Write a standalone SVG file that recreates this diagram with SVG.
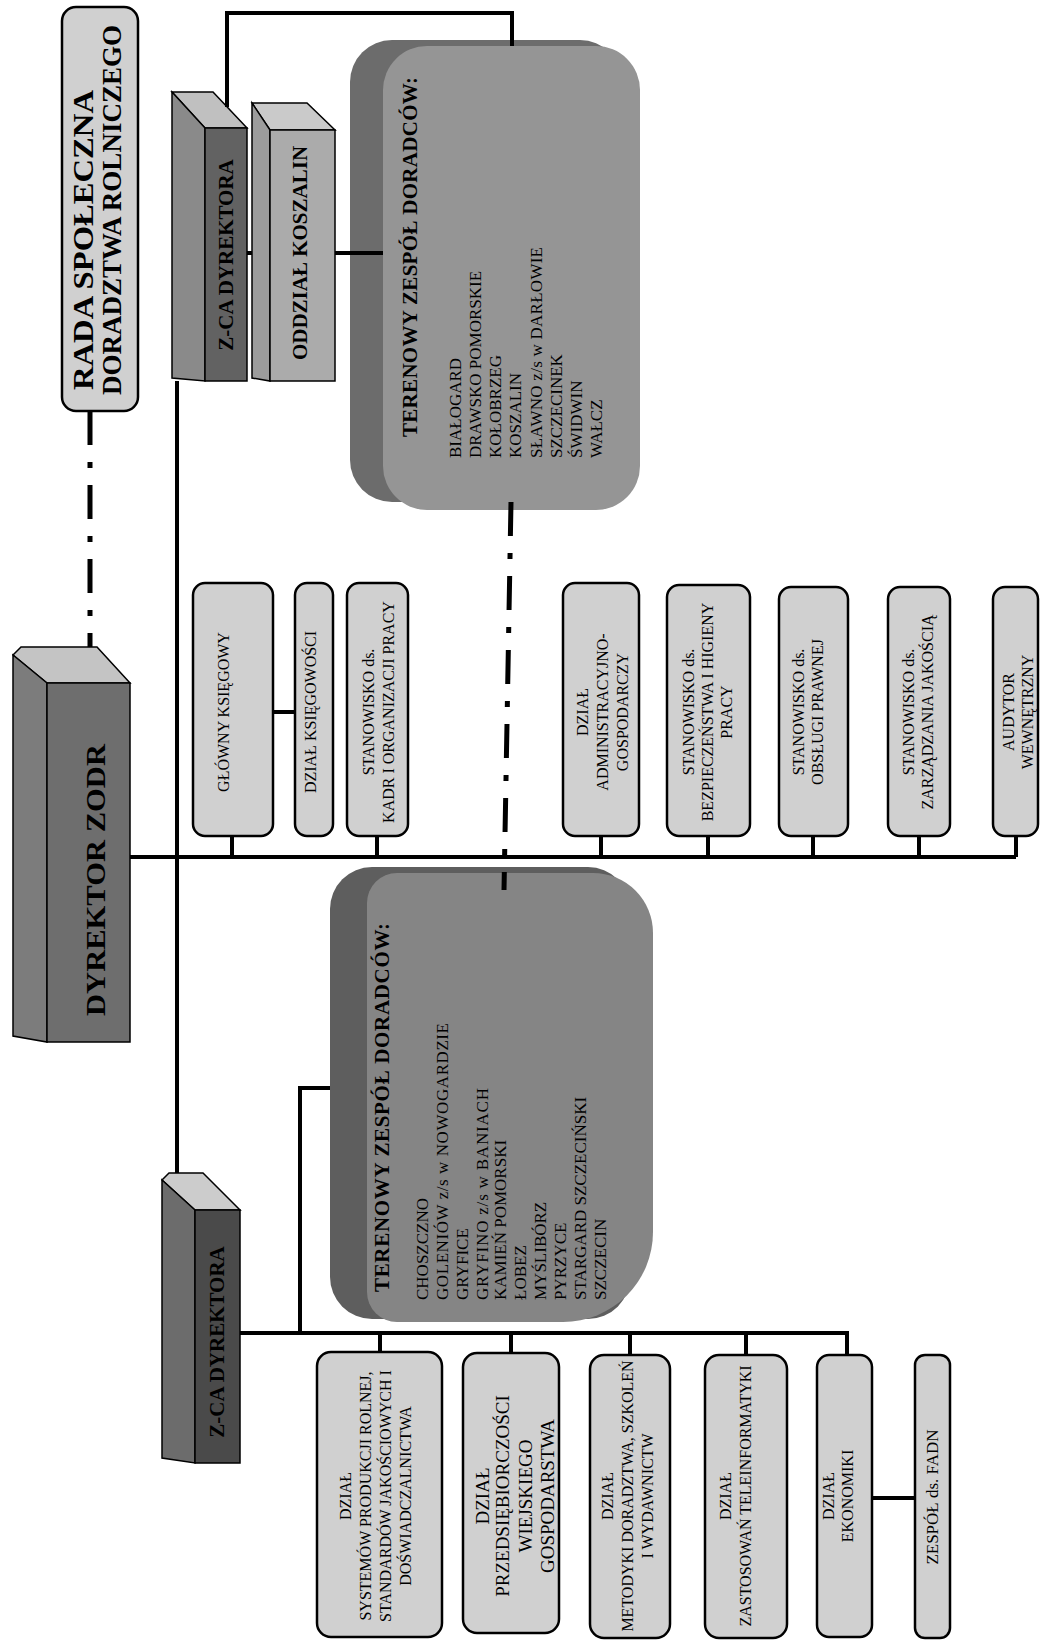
<svg xmlns="http://www.w3.org/2000/svg" width="1043" height="1641" viewBox="0 0 1043 1641">
<style>
.ln{stroke:#000;stroke-width:4;fill:none}
.dd{stroke:#000;stroke-width:5;fill:none;stroke-dasharray:34 17 6 17}
.lb{fill:#d0d0d0;stroke:#000;stroke-width:2.5}
.ol{stroke:#000;stroke-width:1.5}
text{font-family:"Liberation Serif","Times New Roman",serif;fill:#000}
.c{text-anchor:middle}
.f16{font-size:16px}
.f19{font-size:19px}
.f17{font-size:17px}
.b{font-weight:bold}
.tt{font-size:21px;font-weight:bold}
.li{font-size:17px}
</style>
<rect width="1043" height="1641" fill="#fff"/>

<g id="rada">
<rect class="lb" x="62" y="7" width="76" height="404" rx="14"/>
<text class="c b" font-size="29" textLength="300" lengthAdjust="spacingAndGlyphs" transform="translate(93,240) rotate(-90)">RADA SPOŁECZNA</text>
<text class="c b" font-size="27" transform="translate(121,210) rotate(-90)">DORADZTWA ROLNICZEGO</text>
</g>

<g id="dyrektor">
<polygon class="ol" fill="#c4c4c4" points="13,655 21,647 97,647 130,683 47,683"/>
<polygon class="ol" fill="#7c7c7c" points="13,655 47,683 47,1042 13,1036"/>
<rect class="ol" fill="#6e6e6e" x="47" y="683" width="83" height="359"/>
<text class="c b" font-size="28" textLength="272" lengthAdjust="spacingAndGlyphs" transform="translate(105,880) rotate(-90)">DYREKTOR ZODR</text>
</g>

<g id="zca-top">
<polygon class="ol" fill="#c0c0c0" points="172,92 213,92 247,128 205,128"/>
<polygon class="ol" fill="#8a8a8a" points="172,92 205,128 205,381 172,378"/>
<rect class="ol" fill="#626262" x="205" y="128" width="42" height="253"/>
<text class="c b" font-size="21" transform="translate(233,255) rotate(-90)">Z-CA DYREKTORA</text>
</g>

<g id="oddzial">
<polygon class="ol" fill="#cacaca" points="252,103 307,103 335,130 270,130"/>
<polygon class="ol" fill="#9c9c9c" points="252,103 270,130 270,381 252,378"/>
<rect class="ol" fill="#ababab" x="270" y="130" width="65" height="251"/>
<text class="c b" font-size="21" transform="translate(307,253) rotate(-90)">ODDZIAŁ KOSZALIN</text>
</g>

<g id="zespol-koszalin">
<rect fill="#6c6c6c" x="350" y="40" width="272" height="462" rx="42"/>
<rect fill="#959595" x="383" y="46" width="257" height="464" rx="44"/>
<text class="tt" textLength="360" lengthAdjust="spacing" transform="translate(417,437) rotate(-90)">TERENOWY ZESPÓŁ DORADCÓW:</text>
<text class="li" transform="translate(461,458) rotate(-90)">BIAŁOGARD</text>
<text class="li" transform="translate(481,458) rotate(-90)">DRAWSKO POMORSKIE</text>
<text class="li" transform="translate(501,458) rotate(-90)">KOŁOBRZEG</text>
<text class="li" transform="translate(521,458) rotate(-90)">KOSZALIN</text>
<text class="li" textLength="211" lengthAdjust="spacing" transform="translate(542,458) rotate(-90)">SŁAWNO z/s w DARŁOWIE</text>
<text class="li" transform="translate(562,458) rotate(-90)">SZCZECINEK</text>
<text class="li" transform="translate(582,458) rotate(-90)">ŚWIDWIN</text>
<text class="li" transform="translate(602,458) rotate(-90)">WAŁCZ</text>
</g>

<g id="glowny-ksiegowy">
<rect class="lb" x="193" y="583" width="80" height="253" rx="12"/>
<text class="c f16" transform="translate(228.5,712) rotate(-90)">GŁÓWNY KSIĘGOWY</text>
</g>
<g id="dzial-ksiegowosci">
<rect class="lb" x="295" y="583" width="38" height="253" rx="12"/>
<text class="c f16" transform="translate(315.5,712) rotate(-90)">DZIAŁ KSIĘGOWOŚCI</text>
</g>
<g id="kadr">
<rect class="lb" x="347" y="583" width="61" height="253" rx="12"/>
<text class="c f16" transform="translate(373.5,712) rotate(-90)">STANOWISKO ds.</text>
<text class="c f16" transform="translate(393.5,712) rotate(-90)">KADR I ORGANIZACJI PRACY</text>
</g>
<g id="admin">
<rect class="lb" x="563" y="583" width="76" height="253" rx="12"/>
<text class="c f16" transform="translate(587.5,712) rotate(-90)">DZIAŁ</text>
<text class="c f16" transform="translate(607.5,712) rotate(-90)">ADMINISTRACYJNO-</text>
<text class="c f16" transform="translate(627.5,712) rotate(-90)">GOSPODARCZY</text>
</g>
<g id="bhp">
<rect class="lb" x="667" y="585" width="83" height="251" rx="12"/>
<text class="c f16" transform="translate(693.5,712) rotate(-90)">STANOWISKO ds.</text>
<text class="c f16" transform="translate(712.5,712) rotate(-90)">BEZPIECZEŃSTWA I HIGIENY</text>
<text class="c f16" transform="translate(731.5,712) rotate(-90)">PRACY</text>
</g>
<g id="prawna">
<rect class="lb" x="779" y="587" width="69" height="249" rx="12"/>
<text class="c f16" transform="translate(803.5,712) rotate(-90)">STANOWISKO ds.</text>
<text class="c f16" transform="translate(822.5,712) rotate(-90)">OBSŁUGI PRAWNEJ</text>
</g>
<g id="jakosc">
<rect class="lb" x="888" y="587" width="62" height="249" rx="12"/>
<text class="c f16" transform="translate(913.5,712) rotate(-90)">STANOWISKO ds.</text>
<text class="c f16" transform="translate(932.5,712) rotate(-90)">ZARZĄDZANIA JAKOŚCIĄ</text>
</g>
<g id="audytor">
<rect class="lb" x="993" y="587" width="45" height="249" rx="12"/>
<text class="c f16" transform="translate(1013.5,712) rotate(-90)">AUDYTOR</text>
<text class="c f16" transform="translate(1033,712) rotate(-90)">WEWNĘTRZNY</text>
</g>

<g id="zespol-szczecin">
<rect fill="#5e5e5e" x="330" y="867" width="300" height="452" rx="42"/>
<path fill="#858585" d="M397,873 H593 A60,60 0 0 1 653,933 V1232 A90,90 0 0 1 563,1322 H397 A30,30 0 0 1 367,1292 V903 A30,30 0 0 1 397,873 Z"/>
<text class="tt" textLength="369" lengthAdjust="spacing" transform="translate(389,1292) rotate(-90)">TERENOWY ZESPÓŁ DORADCÓW:</text>
<text class="li" transform="translate(428,1300) rotate(-90)">CHOSZCZNO</text>
<text class="li" textLength="277" lengthAdjust="spacing" transform="translate(448,1300) rotate(-90)">GOLENIÓW z/s w NOWOGARDZIE</text>
<text class="li" transform="translate(468,1300) rotate(-90)">GRYFICE</text>
<text class="li" textLength="212" lengthAdjust="spacing" transform="translate(488,1300) rotate(-90)">GRYFINO z/s w BANIACH</text>
<text class="li" transform="translate(506,1300) rotate(-90)">KAMIEŃ POMORSKI</text>
<text class="li" transform="translate(526,1300) rotate(-90)">ŁOBEZ</text>
<text class="li" transform="translate(546,1300) rotate(-90)">MYŚLIBÓRZ</text>
<text class="li" transform="translate(566,1300) rotate(-90)">PYRZYCE</text>
<text class="li" transform="translate(586,1300) rotate(-90)">STARGARD SZCZECIŃSKI</text>
<text class="li" transform="translate(606,1300) rotate(-90)">SZCZECIN</text>
</g>

<g id="zca-bottom">
<polygon class="ol" fill="#cccccc" points="162,1180 169,1173 203,1173 240,1210 195,1210"/>
<polygon class="ol" fill="#6c6c6c" points="162,1180 195,1210 195,1463 162,1458"/>
<rect class="ol" fill="#4a4a4a" x="195" y="1210" width="45" height="253"/>
<text class="c b" font-size="21" transform="translate(224,1342) rotate(-90)">Z-CA DYREKTORA</text>
</g>

<g id="systemow">
<rect class="lb" x="317" y="1352" width="125" height="285" rx="14"/>
<text class="c f16" transform="translate(350.5,1496) rotate(-90)">DZIAŁ</text>
<text class="c f16" transform="translate(370.5,1496) rotate(-90)">SYSTEMÓW PRODUKCJI ROLNEJ,</text>
<text class="c f16" transform="translate(390.5,1496) rotate(-90)">STANDARDÓW JAKOŚCIOWYCH I</text>
<text class="c f16" transform="translate(410.5,1496) rotate(-90)">DOŚWIADCZALNICTWA</text>
</g>
<g id="przedsiebiorczosci">
<rect class="lb" x="463" y="1353" width="96" height="280" rx="14"/>
<text class="c f19" transform="translate(488.5,1496) rotate(-90)">DZIAŁ</text>
<text class="c f19" transform="translate(508.5,1496) rotate(-90)">PRZEDSIĘBIORCZOŚCI</text>
<text class="c f19" transform="translate(531.5,1496) rotate(-90)">WIEJSKIEGO</text>
<text class="c f19" transform="translate(553.5,1496) rotate(-90)">GOSPODARSTWA</text>
</g>
<g id="metodyki">
<rect class="lb" x="590" y="1355" width="80" height="283" rx="14"/>
<text class="c f16" transform="translate(612.5,1496) rotate(-90)">DZIAŁ</text>
<text class="c f16" transform="translate(632.5,1496) rotate(-90)">METODYKI DORADZTWA, SZKOLEŃ</text>
<text class="c f16" transform="translate(652.5,1496) rotate(-90)">I WYDAWNICTW</text>
</g>
<g id="teleinformatyki">
<rect class="lb" x="705" y="1355" width="82" height="283" rx="14"/>
<text class="c f16" transform="translate(730.5,1496) rotate(-90)">DZIAŁ</text>
<text class="c f16" transform="translate(750.5,1496) rotate(-90)">ZASTOSOWAŃ TELEINFORMATYKI</text>
</g>
<g id="ekonomiki">
<rect class="lb" x="817" y="1355" width="55" height="282" rx="12"/>
<text class="c f16" transform="translate(833.5,1496) rotate(-90)">DZIAŁ</text>
<text class="c f16" transform="translate(852.5,1496) rotate(-90)">EKONOMIKI</text>
</g>
<g id="fadn">
<rect class="lb" x="915" y="1355" width="35" height="283" rx="10"/>
<text class="c f17" transform="translate(938,1497) rotate(-90)">ZESPÓŁ ds. FADN</text>
</g>

<g id="connectors">
<path class="dd" d="M90,411 V647"/>
<path class="dd" d="M511,502 L504,890"/>
<path class="ln" d="M130,857 H1016"/>
<path class="ln" d="M232,857 V836 M377,857 V836 M601,857 V836 M708,857 V836 M813,857 V836 M919,857 V836 M1016,857 V836"/>
<path class="ln" d="M273,712 H295"/>
<path class="ln" d="M177,381 V1173"/>
<path class="ln" d="M227,107 V13 H512 V46"/>
<path class="ln" d="M247,253 H252"/>
<path class="ln" d="M335,253 H383"/>
<path class="ln" d="M240,1333 H847 V1355"/>
<path class="ln" d="M380,1333 V1352 M511,1333 V1353 M630,1333 V1355 M746,1333 V1355"/>
<path class="ln" d="M300,1333 V1088 H330"/>
<path class="ln" d="M872,1498 H915"/>
</g>
</svg>
